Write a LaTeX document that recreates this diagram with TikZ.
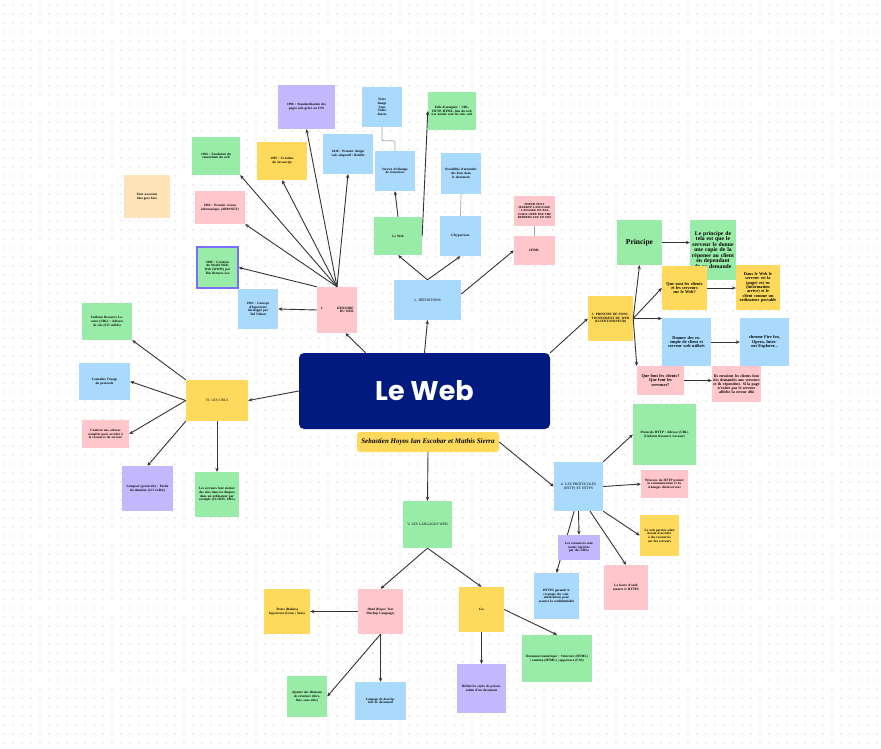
\documentclass[tikz,border=0pt]{standalone}
\usepackage{fontspec}
\setmainfont{Liberation Serif}
\newfontfamily\titre{Poppins}
\usetikzlibrary{arrows.meta,positioning}
\definecolor{vert}{HTML}{99ECA8}
\definecolor{bleu}{HTML}{A9D9FD}
\definecolor{rose}{HTML}{FFC6CC}
\definecolor{jaune}{HTML}{FFD95C}
\definecolor{violet}{HTML}{C3B7FD}
\definecolor{peche}{HTML}{FFE3B8}
\definecolor{marine}{HTML}{001A7F}
\tikzset{
  note/.style n args={3}{fill=#1,minimum width=#2pt,minimum height=#3pt,
    text width=#2pt-7pt,inner sep=1pt,align=center,
    font=\fontsize{3.3}{3.7}\selectfont\bfseries},
  fleche/.style={draw=black!80,line width=0.9pt,-{Stealth[length=4pt,width=3.5pt]}},
  trait/.style={draw=black!35,line width=0.7pt,rounded corners=2pt}
}
\begin{document}
\begin{tikzpicture}[x=1pt,y=-1pt]
\useasboundingbox[fill=white] (0,0) rectangle (881,749);
% fond pointille
\foreach \y in {5,14,...,749}
  \draw[black!24,line width=1.4pt,line cap=round,dash pattern=on 0pt off 9pt] (4,\y) -- (881,\y);

% centre
\node[fill=marine,rounded corners=5pt,minimum width=251pt,minimum height=76pt,
  text=white,font=\titre\bfseries\fontsize{27}{30}\selectfont] (web) at (424.5,391) {Le Web};
\node[fill=jaune,rounded corners=3pt,minimum width=142pt,minimum height=20pt,inner sep=1pt,
  font=\bfseries\itshape\fontsize{7}{8}\selectfont] (auteurs) at (428,442) {Sebastien Hoyos Ian Escobar et Mathis Sierra};

% 1. histoire
\node[note={rose}{40}{46}] (histoire) at (337,310) {1.\hfill HISTOIRE\\ \hfill DU WEB};
\node[note={violet}{57}{44}] (h1996) at (306.5,107) {1996 : Standardisation des pages web grâce au CSS};
\node[note={vert}{48}{38}] (h1994) at (216,156) {1994 : Fondation du consortium du web};
\node[note={jaune}{50}{38}] (h1995) at (282,161) {1995 : Création du Javascript};
\node[note={bleu}{50}{40}] (h2010) at (348,154) {2010 : Premier design web adaptatif / flexible};
\node[note={rose}{50}{33}] (h1969) at (220,207.5) {1969 : Premier réseau informatique (ARPANET)};
\node[note={vert}{41}{41},draw=violet!60!blue,line width=1.4pt] (h1989) at (217.5,267.5) {1989 : Création du World Wide Web (WWW) par Tim Berners-Lee};
\node[note={bleu}{40}{40}] (h1965) at (258,309) {1965 : Concept d'hypertexte développé par Ted Nelson};
\node[note={peche}{46}{43}] (idee) at (147,196.5) {Your awesome idea goes here};

% 2. definitions
\node[note={bleu}{67}{40},font=\fontsize{3.6}{4}\selectfont] (defs) at (427.5,300) {2. DÉFINITIONS};
\node[note={vert}{48}{38}] (leweb) at (398,236) {Le Web};
\node[note={bleu}{41}{40}] (hyper) at (460.5,236) {L'hypertexte};
\node[note={rose}{41}{29}] (html) at (534.5,250.5) {HTML};
\node[note={rose}{41}{30},font=\fontsize{3}{3.3}\selectfont\bfseries] (htmldef) at (534.5,211) {HYPER TEXT MARKUP LANGUAGE : LANGAGE DE BALISAGE CRÉÉ PAR TIM BERNERS-LEE EN 1991};
\node[note={bleu}{40}{40}] (service) at (395,171) {Service d'échange de ressources};
\node[note={bleu}{40}{40}] (medias) at (382,107) {Texte\\ Image\\ Sons\\ Vidéo\\ Autres};
\node[note={vert}{48}{38}] (toile) at (452,111) {Toile d'araignée : URL,\\ HTTP, HTML, lien du web\\ Les nœuds sont les sites web};
\node[note={bleu}{40}{41}] (liens) at (461,173.5) {Possibilité d'atteindre des liens dans le document};

% 3. principe
\node[note={jaune}{45}{45}] (principe) at (610.5,318.5) {3. PRINCIPE DE FONCTIONNEMENT DU WEB (CLIENT/SERVEUR)};
\node[note={vert}{45}{45},font=\fontsize{7.5}{8}\selectfont\bfseries] (pr) at (639.5,242.5) {Principe};
\node[note={vert}{44}{60},text width=44pt,font=\fontsize{5.7}{5.5}\selectfont\bfseries] (pr2) at (713,250) {Le principe de tela est que le serveur le donne une copie de la réponse au client en dependant de sa demande};
\node[note={jaune}{45}{44},font=\fontsize{4.3}{4.3}\selectfont\bfseries] (qui) at (684.5,288) {Que sont les clients et les serveurs sur le Web?};
\node[note={jaune}{44}{45},font=\fontsize{4.3}{4.3}\selectfont\bfseries] (qui2) at (758,287.5) {Dans le Web le serveur est la (page) est en (information arrive) et le client comme un ordinateur portable};
\node[note={bleu}{49}{48},font=\fontsize{4.3}{4.3}\selectfont\bfseries] (ex) at (686.5,342) {Donner des exemple de client et serveur web utilisés};
\node[note={bleu}{49}{48},font=\fontsize{4.3}{4.3}\selectfont\bfseries] (ex2) at (764.5,342) {chrome Fire fox, Opera, Internet Explorer...};
\node[note={rose}{47}{29},font=\fontsize{4.3}{4.3}\selectfont\bfseries] (role) at (660.5,380.5) {Que font les clients?\\ Que font les serveurs?};
\node[note={rose}{47}{36},text width=47pt,font=\fontsize{3.9}{3.9}\selectfont\bfseries] (role2) at (736.5,384) {Ils envoient les clients font des demandes aux serveurs et ils répondent. Si la page n'existe pas le serveur affiche la erreur 404};

% VI. urls
\node[note={jaune}{62}{41},font=\fontsize{3.6}{4}\selectfont] (urls) at (217,400.5) {VI. LES URLS};
\node[note={vert}{50}{37}] (u1) at (107,321.5) {Uniform Resource Locator (URL) : Adresse de site (Url visible)};
\node[note={bleu}{51}{37}] (u2) at (104.5,381.5) {Connaître l'usage du protocole};
\node[note={rose}{47}{28}] (u3) at (105.5,434) {Contient une adresse complète pour accéder à la ressource du serveur};
\node[note={violet}{51}{45}] (u4) at (147.5,488.5) {Composé (protocole) : Partie du domaine (Url visible)};
\node[note={vert}{44}{45}] (u5) at (217,494.5) {Les serveurs font stocker des sites dans les disques dans un ordinateur par exemple (CLOUD, URL)};

% V. langages
\node[note={vert}{49}{47},font=\fontsize{3.6}{4}\selectfont] (lang) at (427.5,524.5) {V. LES LANGAGES WEB};
\node[note={rose}{45}{45}] (hml) at (380.5,611.5) {Html (Hyper Text Markup Language)};
\node[note={jaune}{46}{45}] (balises) at (287,611.5) {Textes (Balises)\\ hypertexte (Liens | Sons)};
\node[note={vert}{40}{41}] (struct) at (307,696.5) {Ajouter des éléments de structure (titre, liste, sous-titre)};
\node[note={bleu}{51}{38}] (descr) at (380.5,701) {Langage de description de document};
\node[note={jaune}{45}{45}] (css) at (481.5,609.5) {Css};
\node[note={violet}{49}{49}] (style) at (481.5,688.5) {Définit les styles de présentation d'un document};
\node[note={vert}{70}{47}] (doc) at (557,658.5) {Document numérique : Structure (HTML) | contenu (HTML) | apparence (CSS)};

% 4. protocoles
\node[note={bleu}{49}{49},font=\fontsize{3.6}{4}\selectfont] (proto) at (578.5,486.5) {4. LES PROTOCOLES (HTTP) ET HTTPS};
\node[note={vert}{63}{61}] (p1) at (664.5,434.5) {Protocole HTTP / Adresse (URL)\\ (Uniform Resource Locator)};
\node[note={rose}{47}{28}] (p2) at (664.5,484) {Présence du HTTP permet la communication et les échanges client/serveur};
\node[note={jaune}{39}{41}] (p3) at (659.5,535.5) {Le web permet selon besoin d'accéder à des ressources sur des serveurs};
\node[note={rose}{44}{45}] (p4) at (626,587.5) {La barre d'outil montre le HTTPS};
\node[note={bleu}{45}{46}] (p6) at (556.5,596) {HTTPS garantit le cryptage des communications pour assurer la confidentialité};

% liens
\draw[fleche] (web.147) -- (histoire.290);
\draw[fleche] (web.north) -- (defs.south);
\draw[fleche] (web.north east) -- (principe.west);
\draw[fleche] (web.west) -- (urls.east);
\draw[fleche] (auteurs.south) -- (lang.north);
\draw[fleche] (auteurs.east) -- (proto.west);

\foreach \cible/\ancre in {h1996/south,h1994/south east,h1995/south,h2010/south,h1969/south east}
  \draw[fleche] (histoire.north) -- (\cible.\ancre);
\draw[fleche] (histoire.north west) -- (h1989.east);
\draw[fleche] (histoire.west) -- (h1965.east);

\draw[fleche] (defs.north) -- (leweb.south);
\draw[fleche] (defs.north) -- (hyper.south);
\draw[fleche] (defs.10) -- (html.west);
\draw[fleche] (leweb.north) -- (service.south);
\draw[fleche] (leweb.east) -- (toile.west);
\draw[trait] (service.north) -- ++(0,-10) -| (medias.south);
\draw[trait] (hyper.north) -- (liens.south);
\draw[trait] (html.north) -- (htmldef.south);

\draw[fleche] (principe.east) -- (pr.south);
\draw[fleche] (principe.east) -- (qui.west);
\draw[fleche] (principe.east) -- (principe.east -| ex.west);
\draw[fleche] (principe.east) -- (role.north west);
\draw[fleche] (pr.east) -- (pr.east -| pr2.west);
\draw[fleche] (qui.east) -- (qui.east -| qui2.west);
\draw[fleche] (ex.east) -- (ex2.west);
\draw[fleche] (role.east) -- (role.east -| role2.west);

\draw[fleche] (urls.north west) -- (u1.south east);
\draw[fleche] (urls.west) -- (u2.east);
\draw[fleche] (urls.west) -- (u3.east);
\draw[fleche] (urls.south west) -- (u4.north);
\draw[fleche] (urls.south) -- (u5.north);

\draw[fleche] (lang.south) -- (hml.north);
\draw[fleche] (lang.south) -- (css.north);
\draw[fleche] (hml.west) -- (balises.east);
\draw[fleche] (hml.south) -- (struct.east);
\draw[fleche] (hml.south) -- (descr.north);
\draw[fleche] (css.south) -- (style.north);
\draw[fleche] (css.east) -- (doc.north);

\draw[fleche] (proto.north east) -- (p1.west);
\draw[fleche] (proto.east) -- (p2.west);
\draw[fleche] (proto.south east) -- (p3.west);
\draw[fleche] (proto.-65) -- (p4.north);
\draw[fleche] (proto.-100) -- (p6.north);
\node[note={violet}{42}{25}] (p5) at (579,547.5) {Les ressources sont toutes repérées par des URLs};
\draw[fleche] (proto.south) -- (p5.north);
\end{tikzpicture}
\end{document}
